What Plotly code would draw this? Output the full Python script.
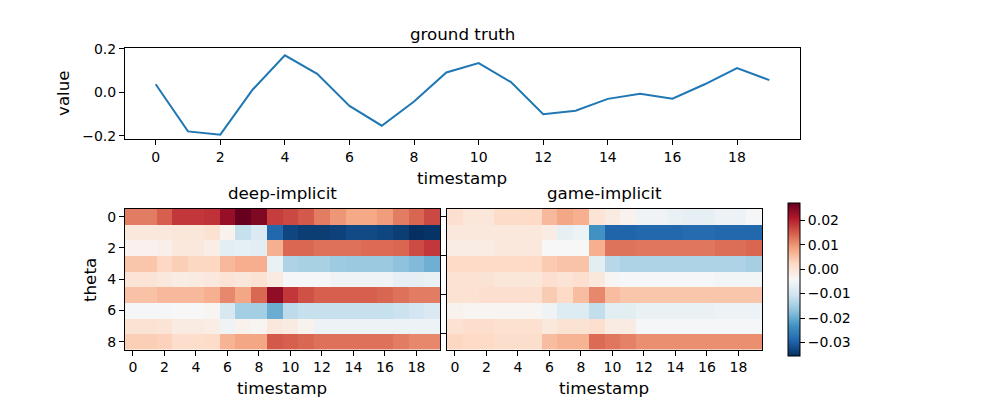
import plotly.graph_objects as go

timestamps = list(range(20))
ground_truth = [0.037, -0.179, -0.194, 0.012, 0.170, 0.085, -0.062, -0.153, -0.042, 0.091,
                0.134, 0.047, -0.100, -0.084, -0.030, -0.007, -0.029, 0.037, 0.111, 0.056]
theta_idx = list(range(9))

deep_implicit = [
    [0.012, 0.012, 0.0145, 0.018, 0.018, 0.0185, 0.023, 0.027, 0.025, 0.0175, 0.0165, 0.015, 0.012, 0.0095, 0.0078, 0.0078, 0.009, 0.012, 0.014, 0.0165],
    [-0.0008, -0.0008, -0.0008, -0.0005, -0.0005, 0.0005, -0.003, -0.0115, -0.009, -0.029, -0.033, -0.034, -0.034, -0.0335, -0.0325, -0.0325, -0.033, -0.034, -0.0355, -0.035],
    [-0.003, -0.003, -0.0025, -0.0008, -0.0008, -0.002, -0.0075, -0.007, -0.0075, 0.007, 0.0138, 0.0138, 0.013, 0.013, 0.013, 0.0135, 0.0135, 0.014, 0.0163, 0.018],
    [0.0045, 0.0045, 0.0022, 0.0035, 0.0025, 0.0025, 0.006, 0.0072, 0.0072, -0.0065, -0.014, -0.0145, -0.0145, -0.0155, -0.016, -0.016, -0.016, -0.017, -0.018, -0.0195],
    [0.0, 0.0, -0.001, -0.0018, -0.0015, -0.001, 0.0, -0.0007, 0.0003, -0.0015, -0.0045, -0.0045, -0.0045, -0.0055, -0.0055, -0.0055, -0.0055, -0.007, -0.007, -0.0065],
    [0.005, 0.005, 0.006, 0.006, 0.006, 0.007, 0.011, 0.008, 0.0138, 0.0235, 0.018, 0.0158, 0.0145, 0.0145, 0.0145, 0.0145, 0.014, 0.013, 0.012, 0.012],
    [-0.0045, -0.0045, -0.0045, -0.0042, -0.0042, -0.0035, -0.0095, -0.015, -0.015, -0.0198, -0.0125, -0.0115, -0.0115, -0.0115, -0.0115, -0.0115, -0.0115, -0.011, -0.010, -0.009],
    [0.0003, 0.0003, 0.0, -0.0015, -0.0015, -0.002, -0.0055, -0.0028, -0.0035, -0.0008, -0.0015, -0.0032, -0.006, -0.006, -0.006, -0.006, -0.006, -0.006, -0.006, -0.006],
    [0.0035, 0.0035, 0.003, 0.0015, 0.0015, 0.0018, 0.0065, 0.008, 0.008, 0.015, 0.0145, 0.0138, 0.013, 0.013, 0.013, 0.013, 0.013, 0.012, 0.011, 0.011],
]

game_implicit = [
    [0.001, -0.0005, -0.0005, 0.0018, 0.0018, 0.002, 0.006, 0.008, 0.007, 0.0, -0.0015, -0.003, -0.0055, -0.0055, -0.0065, -0.007, -0.007, -0.006, -0.006, -0.0045],
    [-0.0008, -0.0008, -0.0008, -0.0008, -0.0008, -0.0008, -0.0018, -0.007, -0.006, -0.0233, -0.0295, -0.0295, -0.029, -0.029, -0.029, -0.0285, -0.0285, -0.029, -0.029, -0.029],
    [-0.0018, -0.0018, -0.0018, -0.0008, -0.0008, -0.0008, -0.0043, -0.0043, -0.0043, 0.007, 0.0128, 0.0128, 0.0125, 0.0125, 0.0125, 0.0125, 0.0125, 0.0133, 0.0133, 0.014],
    [0.002, 0.002, 0.002, 0.002, 0.002, 0.002, 0.004, 0.0048, 0.0048, -0.0075, -0.013, -0.014, -0.014, -0.014, -0.014, -0.014, -0.014, -0.014, -0.014, -0.0148],
    [0.0003, 0.0003, 0.0003, -0.0005, -0.0005, -0.0005, 0.001, 0.0, 0.001, -0.0008, -0.0038, -0.0045, -0.0045, -0.0045, -0.0045, -0.0045, -0.0045, -0.005, -0.005, -0.005],
    [0.0005, 0.0005, 0.001, 0.001, 0.001, 0.001, 0.0038, 0.002, 0.0055, 0.011, 0.0055, 0.0045, 0.0045, 0.0045, 0.0045, 0.0045, 0.0045, 0.0045, 0.0045, 0.0045],
    [-0.003, -0.0035, -0.0035, -0.0035, -0.0035, -0.0035, -0.0055, -0.0085, -0.0085, -0.012, -0.0075, -0.0075, -0.0065, -0.0065, -0.0065, -0.0065, -0.0065, -0.006, -0.006, -0.006],
    [0.0005, 0.0015, 0.0015, 0.0008, 0.0008, 0.0008, -0.0008, 0.0003, 0.0003, 0.001, -0.0015, -0.0015, -0.0045, -0.0045, -0.0045, -0.0045, -0.0045, -0.0045, -0.0045, -0.0045],
    [0.0025, 0.002, 0.002, 0.0013, 0.0013, 0.0013, 0.0055, 0.0065, 0.0065, 0.0135, 0.0125, 0.0115, 0.0102, 0.0102, 0.0102, 0.0102, 0.0102, 0.0102, 0.0102, 0.0102],
]

colorbar_ticks = [-0.03, -0.02, -0.01, 0.0, 0.01, 0.02]
value_ticks = [-0.2, 0.0, 0.2]
value_range = [-0.214, 0.202]

rdbu_r = [
    [0.0, "rgb(5,48,97)"], [0.1, "rgb(33,102,172)"], [0.2, "rgb(67,147,195)"],
    [0.3, "rgb(146,197,222)"], [0.4, "rgb(209,229,240)"], [0.5, "rgb(247,247,247)"],
    [0.6, "rgb(253,219,199)"], [0.7, "rgb(244,165,130)"], [0.8, "rgb(214,96,77)"],
    [0.9, "rgb(178,24,43)"], [1.0, "rgb(103,0,31)"],
]

all_vals = [v for row in deep_implicit + game_implicit for v in row]
zmin, zmax = min(all_vals), max(all_vals)

FONT = "DejaVu Sans"
W, H = 1000, 400

def px(x):
    return x / W

def py(y):
    return 1 - y / H

fig = go.Figure()

fig.add_trace(go.Scatter(x=timestamps, y=ground_truth, mode="lines",
                         line=dict(color="#1f77b4", width=2), xaxis="x", yaxis="y",
                         showlegend=False, hoverinfo="skip"))

fig.add_trace(go.Heatmap(z=deep_implicit, x=timestamps, y=theta_idx, coloraxis="coloraxis",
                         xaxis="x2", yaxis="y2"))
fig.add_trace(go.Heatmap(z=game_implicit, x=timestamps, y=theta_idx, coloraxis="coloraxis",
                         xaxis="x3", yaxis="y3"))

tpad = (timestamps[-1] - timestamps[0]) * 0.05

axis_common = dict(showline=True, linecolor="black", linewidth=1, mirror=True,
                   ticks="outside", ticklen=5, tickwidth=1, tickcolor="black",
                   showgrid=False, zeroline=False, automargin=False,
                   tickfont=dict(family=FONT, size=14, color="black"))

fig.update_layout(
    width=W, height=H,
    margin=dict(l=0, r=0, t=0, b=0, pad=0, autoexpand=False),
    paper_bgcolor="white", plot_bgcolor="white",
    font=dict(family=FONT, color="black"),
    xaxis=dict(domain=[px(125), px(800)], anchor="y",
               range=[timestamps[0] - tpad, timestamps[-1] + tpad],
               tickvals=list(range(0, 20, 2)), **axis_common),
    yaxis=dict(domain=[py(139), py(48.3)], anchor="x",
               range=value_range,
               tickvals=value_ticks, tickformat=".1f", **axis_common),
    xaxis2=dict(domain=[px(125), px(440)], anchor="y2", range=[-0.5, 19.5],
                tickvals=list(range(0, 20, 2)), **axis_common),
    yaxis2=dict(domain=[py(349.5), py(208.9)], anchor="x2", range=[8.5, -0.5],
                tickvals=[0, 2, 4, 6, 8], **axis_common),
    xaxis3=dict(domain=[px(447), px(762)], anchor="y3", range=[-0.5, 19.5],
                tickvals=list(range(0, 20, 2)), **axis_common),
    yaxis3=dict(domain=[py(349.5), py(208.9)], anchor="x3", range=[8.5, -0.5],
                tickvals=[0, 2.5, 5, 7.5], showticklabels=False, **axis_common),
    coloraxis=dict(colorscale=rdbu_r, cmin=zmin, cmax=zmax,
                   colorbar=dict(x=px(788), xanchor="left", y=py(356), yanchor="bottom",
                                 len=153 / H, lenmode="fraction", thickness=12,
                                 outlinewidth=1, outlinecolor="black",
                                 tickvals=colorbar_ticks, tickformat=".2f",
                                 ticks="outside", ticklen=5, tickcolor="black",
                                 tickfont=dict(family=FONT, size=14, color="black"),
                                 xpad=0, ypad=0)),
)

ann_font = dict(family=FONT, size=16.7, color="black")
annotations = [
    dict(text="ground truth", x=px(462), y=py(34)),
    dict(text="value", x=px(63), y=py(93), textangle=-90),
    dict(text="timestamp", x=px(462), y=py(178)),
    dict(text="deep-implicit", x=px(282), y=py(193)),
    dict(text="game-implicit", x=px(604), y=py(193)),
    dict(text="theta", x=px(90), y=py(280), textangle=-90),
    dict(text="timestamp", x=px(282), y=py(388)),
    dict(text="timestamp", x=px(604), y=py(388)),
]
fig.update_layout(annotations=[dict(a, xref="paper", yref="paper", showarrow=False,
                                    xanchor="center", yanchor="middle", font=ann_font)
                               for a in annotations])

post = (
    "document.documentElement.style.margin='0';"
    "document.documentElement.style.padding='0';"
    "document.documentElement.style.overflow='hidden';"
    "document.body.style.margin='0';"
    "document.body.style.padding='0';"
    "document.body.style.overflow='hidden';"
    "var d=document.getElementById('{plot_id}');"
    "d.style.position='absolute';d.style.left='0px';d.style.top='0px';"
)

fig.write_html("out.html", post_script=post, config={"displayModeBar": False})
